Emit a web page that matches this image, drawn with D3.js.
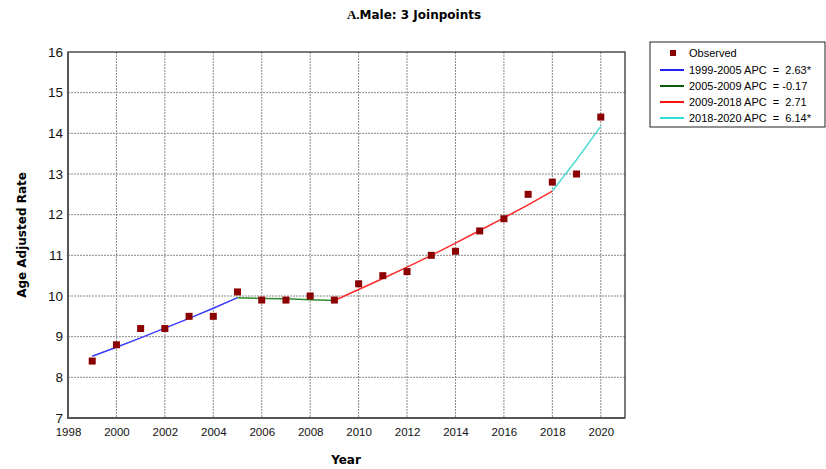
<!DOCTYPE html>
<html>
<head>
<meta charset="utf-8">
<script src="https://cdn.jsdelivr.net/npm/d3@7"></script>
<style>
  body { margin: 0; background: #fff; }
  text { font-family: "DejaVu Sans", "Liberation Sans", sans-serif; }
</style>
</head>
<body>
<div id="chart"></div>
<script>
// observed rates
var years = [1999, 2000, 2001, 2002, 2003, 2004, 2005, 2006, 2007, 2008, 2009, 2010,
             2011, 2012, 2013, 2014, 2015, 2016, 2017, 2018, 2019, 2020];
var observed = [8.4, 8.8, 9.2, 9.2, 9.5, 9.5, 10.1, 9.9, 9.9, 10.0, 9.9, 10.3,
                10.5, 10.6, 11.0, 11.1, 11.6, 11.9, 12.5, 12.8, 13.0, 14.4];

// fitted joinpoint segments
var segLabels = ["1999-2005 APC  =  2.63*", "2005-2009 APC  = -0.17",
                 "2009-2018 APC  =  2.71", "2018-2020 APC  =  6.14*"];
var segYears = [
  [1999, 2000, 2001, 2002, 2003, 2004, 2005],
  [2005, 2006, 2007, 2008, 2009],
  [2009, 2010, 2011, 2012, 2013, 2014, 2015, 2016, 2017, 2018],
  [2018, 2019, 2020]
];
var segFitted = [
  [8.52, 8.74, 8.97, 9.21, 9.45, 9.70, 9.96],
  [9.96, 9.94, 9.93, 9.91, 9.89],
  [9.89, 10.16, 10.43, 10.71, 11.00, 11.30, 11.61, 11.92, 12.24, 12.58],
  [12.58, 13.35, 14.17]
];
var segColors = ["#3a3aff", "#2e8b2e", "#ff2a2a", "#4fdcd6"];
var legendColors = ["#2020ff", "#0a5a0a", "#ff1010", "#30e0d8"];

var xTicks = [1998, 2000, 2002, 2004, 2006, 2008, 2010, 2012, 2014, 2016, 2018, 2020];
var yTicks = [7, 8, 9, 10, 11, 12, 13, 14, 15, 16];

var svgWidth = 826;
var svgHeight = 469;
var margin = { top: 52, right: 200, bottom: 50, left: 68 };
var width = 625 - margin.left;
var height = 418 - margin.top;

var svg = d3.select("#chart")
  .append("svg")
  .attr("width", svgWidth)
  .attr("height", svgHeight);

var chartGroup = svg.append("g")
  .attr("transform", `translate(${margin.left}, ${margin.top})`);

// scales
var xScale = d3.scaleLinear().domain([1998, 2021]).range([0, width]);
var yScale = d3.scaleLinear().domain([7, 16]).range([height, 0]);

// grid
chartGroup.append("g")
  .selectAll("line")
  .data(xTicks.filter(d => d > 1998))
  .enter()
  .append("line")
  .attr("x1", d => xScale(d)).attr("x2", d => xScale(d))
  .attr("y1", 0).attr("y2", height)
  .attr("stroke", "#8a8a8a")
  .attr("stroke-dasharray", "2,1");

chartGroup.append("g")
  .selectAll("line")
  .data(yTicks.filter(d => d > 7 && d < 16))
  .enter()
  .append("line")
  .attr("x1", 0).attr("x2", width)
  .attr("y1", d => yScale(d)).attr("y2", d => yScale(d))
  .attr("stroke", "#8a8a8a")
  .attr("stroke-dasharray", "2,1");

// axes
var bottomAxis = d3.axisBottom(xScale).tickValues(xTicks).tickFormat(d3.format("d")).tickSize(0).tickPadding(10);
var leftAxis = d3.axisLeft(yScale).tickValues(yTicks).tickSize(0).tickPadding(5);

var xAxisG = chartGroup.append("g")
  .attr("transform", `translate(0, ${height})`)
  .call(bottomAxis);
var yAxisG = chartGroup.append("g").call(leftAxis);

xAxisG.select(".domain").remove();
yAxisG.select(".domain").remove();
xAxisG.selectAll("text")
  .attr("fill", "#111")
  .style("font-size", "11.5px")
  .style("font-family", "'Liberation Sans', Arial, sans-serif");
yAxisG.selectAll("text")
  .attr("fill", "#111")
  .style("font-size", "13.5px")
  .style("font-family", "'Liberation Sans', Arial, sans-serif");

// plot frame: thin top/right, heavier left/bottom
chartGroup.append("rect")
  .attr("x", 0).attr("y", 0)
  .attr("width", width).attr("height", height)
  .attr("fill", "none")
  .attr("stroke", "#222")
  .attr("stroke-width", 1.2);
chartGroup.append("path")
  .attr("d", `M0,0V${height}H${width}`)
  .attr("fill", "none")
  .attr("stroke", "#555")
  .attr("stroke-width", 2);

// fitted lines
var line = d3.line()
  .x(d => xScale(d[0]))
  .y(d => yScale(d[1]));

segYears.forEach(function(ys, i) {
  chartGroup.append("path")
    .datum(ys.map((y, j) => [y, segFitted[i][j]]))
    .attr("d", line)
    .attr("fill", "none")
    .attr("stroke", segColors[i])
    .attr("stroke-width", 1.5);
});

// observed points
chartGroup.selectAll("rect.obs")
  .data(years)
  .enter()
  .append("rect")
  .attr("class", "obs")
  .attr("x", (d) => xScale(d) - 3.5)
  .attr("y", (d, i) => yScale(observed[i]) - 3.5)
  .attr("width", 7)
  .attr("height", 7)
  .attr("fill", "#8b0000");

// title
var title = svg.append("text")
  .attr("x", 414)
  .attr("y", 19)
  .attr("text-anchor", "middle")
  .style("font-size", "12px")
  .style("font-weight", "bold");
title.append("tspan")
  .style("font-family", "'Liberation Serif', 'DejaVu Serif', serif")
  .style("font-size", "13px")
  .text("A.");
title.append("tspan")
  .text("Male: 3 Joinpoints");

// axis labels
svg.append("text")
  .attr("transform", "rotate(-90)")
  .attr("x", -235)
  .attr("y", 26)
  .attr("text-anchor", "middle")
  .style("font-size", "12px")
  .style("font-weight", "bold")
  .text("Age Adjusted Rate");

svg.append("text")
  .attr("x", 346)
  .attr("y", 464)
  .attr("text-anchor", "middle")
  .style("font-size", "12px")
  .style("font-weight", "bold")
  .text("Year");

// legend
var legend = svg.append("g").attr("transform", "translate(650, 42)");
legend.append("rect")
  .attr("width", 175).attr("height", 85)
  .attr("fill", "#fff")
  .attr("stroke", "#222");

legend.append("rect")
  .attr("x", 20).attr("y", 8)
  .attr("width", 6).attr("height", 6)
  .attr("fill", "#8b0000");
legend.append("text")
  .attr("x", 39).attr("y", 15)
  .style("font-size", "11px")
  .style("font-family", "'Liberation Sans', Arial, sans-serif")
  .text("Observed");

segLabels.forEach(function(lbl, i) {
  var yy = 28 + i * 16;
  legend.append("line")
    .attr("x1", 10).attr("x2", 34)
    .attr("y1", yy).attr("y2", yy)
    .attr("stroke", legendColors[i])
    .attr("stroke-width", 2);
  legend.append("text")
    .attr("x", 39).attr("y", yy + 4)
    .style("font-size", "11px")
    .style("font-family", "'Liberation Sans', Arial, sans-serif")
    .style("white-space", "pre")
    .attr("xml:space", "preserve")
    .text(lbl);
});
</script>
</body>
</html>
